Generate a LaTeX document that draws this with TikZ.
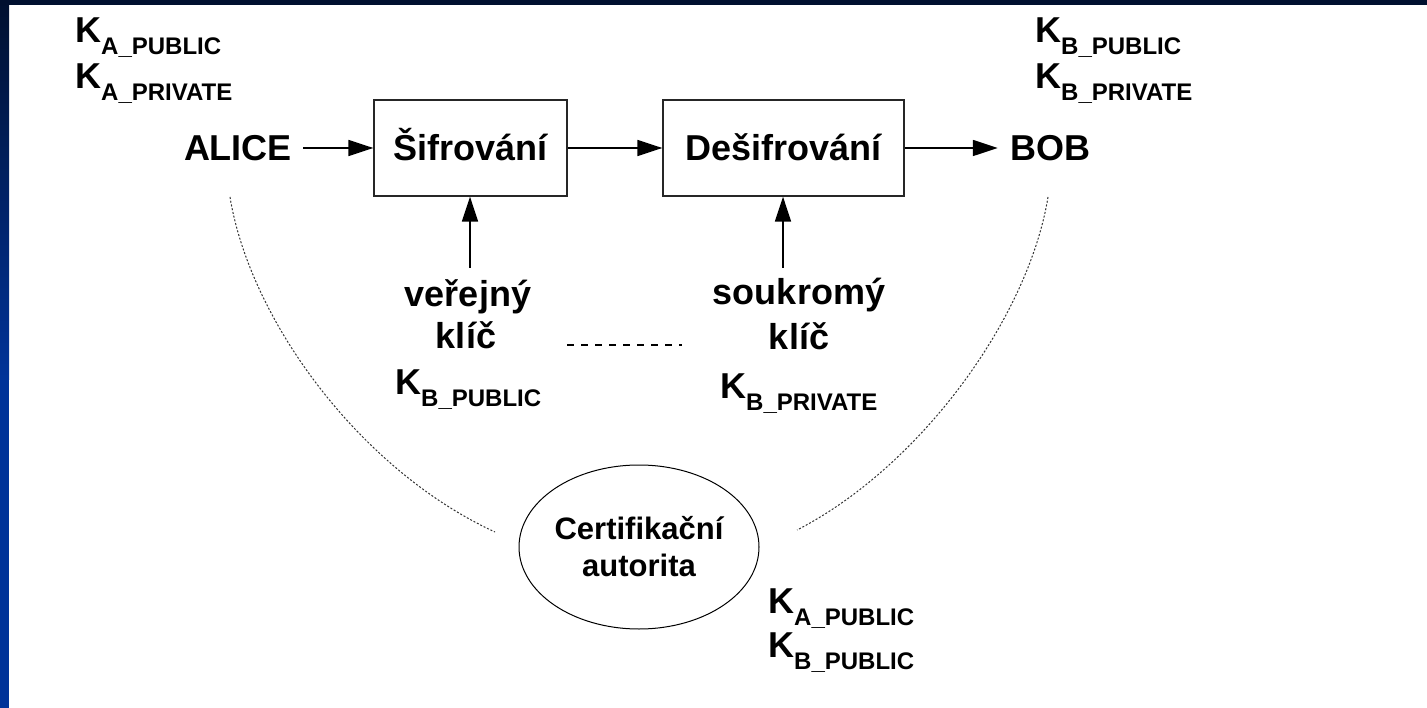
\documentclass[tikz,border=0pt]{standalone}
\usepackage{fontspec}
\setmainfont{Liberation Sans}
\usetikzlibrary{shapes.geometric,arrows.meta}
\definecolor{navytop}{HTML}{00102F}
\definecolor{navyband}{HTML}{003399}
% K with a lowered subscript, e.g. K_{A_PUBLIC}
\newcommand\keylab[2]{K\raisebox{-12pt}{\fontsize{24}{28}\selectfont #1\_#2}}
\begin{document}
\begin{tikzpicture}[x=1pt,y=-1pt,
  lbl/.style={font=\fontsize{36}{40}\selectfont\bfseries, inner sep=0pt},
  proc/.style={draw=black!85, line width=1.3pt, minimum height=96pt,
    font=\fontsize{36}{40}\selectfont\bfseries, text height=26pt, text depth=0pt},
  party/.style={lbl, text height=26pt, text depth=0pt},
  arr/.style={line width=1.6pt, -{Triangle[length=25pt,width=16pt]}},
  link/.style={line width=1pt, black!80, dash pattern=on 2pt off 1.8pt},
  keypair/.style={line width=1.2pt, dash pattern=on 7pt off 7pt},
]
% page and frame
\fill[white] (0,0) rectangle (1427,708);
\shade[top color=navytop, bottom color=navyband] (0,0) rectangle (9,380);
\fill[navyband] (0,380) rectangle (9,708);
\fill[navytop] (0,0) rectangle (1427,5);
\useasboundingbox (0,0) rectangle (1427,708);

% key sets of the two parties
\node[lbl, anchor=base west] (kapub)  at (75,43)   {\keylab{A}{PUBLIC}};
\node[lbl, anchor=base west] (kapriv) at (75,89)   {\keylab{A}{PRIVATE}};
\node[lbl, anchor=base west] (kbpub)  at (1035,43) {\keylab{B}{PUBLIC}};
\node[lbl, anchor=base west] (kbpriv) at (1035,89) {\keylab{B}{PRIVATE}};

% main chain
\node[party, inner xsep=11pt] (alice) at (238,148) {ALICE};
\node[proc, minimum width=193pt] (sifr)   at (470.5,148) {Šifrování};
\node[proc, minimum width=241pt] (desifr) at (783.5,148) {Dešifrování};
\node[party, inner xsep=12pt] (bob) at (1050,148) {BOB};
\draw[arr] (alice) -- (sifr);
\draw[arr] (sifr) -- (desifr);
\draw[arr] (desifr) -- (bob);

% keys used by the two steps
\node[lbl, anchor=base] (ver)   at (468,307) {veřejný};
\node[lbl, anchor=base] (klic1) at (466,349) {klíč};
\node[lbl, anchor=base west] (kbpubm) at (395,395) {\keylab{B}{PUBLIC}};
\node[lbl, anchor=base] (souk)  at (799,305) {soukromý};
\node[lbl, anchor=base] (klic2) at (799,350) {klíč};
\node[lbl, anchor=base west] (kbprivm) at (720,399) {\keylab{B}{PRIVATE}};
\coordinate (pubtail)  at (470,268);
\coordinate (privtail) at (783,268);
\draw[arr] (pubtail) -- (pubtail |- sifr.south);
\draw[arr] (privtail) -- (privtail |- desifr.south);
\coordinate (pairl) at (567,345);
\coordinate (pairr) at (682,345);
\draw[keypair] (pairl) -- (pairr);

% certification authority
\node[font=\fontsize{31}{37}\selectfont\bfseries, align=center, inner sep=0pt] (ca) at (639,547) {Certifikační\\autorita};
\draw[line width=1pt] (ca.center) ellipse [x radius=120, y radius=82];
\node[lbl, anchor=base west] (capub) at (768,613) {\keylab{A}{PUBLIC}};
\node[lbl, anchor=base west] (cbpub) at (768,657) {\keylab{B}{PUBLIC}};

% trust links to the authority
\coordinate (la) at (230,197);
\coordinate (lb) at (495,532);
\coordinate (ra) at (1048,197);
\coordinate (rb) at (797,530);
\draw[link] (la) .. controls (250,320) and (360,470) .. (lb);
\draw[link] (ra) .. controls (1028,320) and (918,468) .. (rb);
\end{tikzpicture}
\end{document}
